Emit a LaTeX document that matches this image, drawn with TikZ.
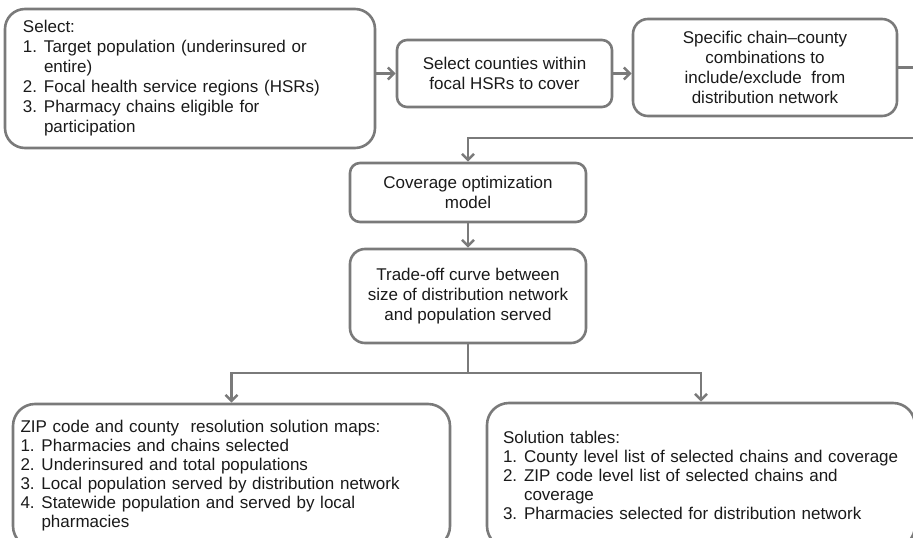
\documentclass[tikz,border=0pt]{standalone}
\usepackage{fontspec}
\setmainfont{Liberation Sans}
\usetikzlibrary{arrows.meta}
\definecolor{lgray}{HTML}{7A7A7A}
\definecolor{tgray}{HTML}{1A1A1A}
\newcommand{\numit}[2]{\makebox[21pt][l]{#1}#2}
\newcommand{\cont}[1]{\hspace*{21pt}#1}
\begin{document}
\begin{tikzpicture}[x=1pt,y=-1pt,
	box/.style={draw=lgray, line width=2.6pt, text=tgray, inner sep=0pt,
		font=\fontsize{17}{20}\selectfont, align=center},
	arr/.style={draw=lgray, line width=2.6pt, -{Straight Barb[length=6pt,width=12pt]}},
	ln/.style={draw=lgray, line width=2.6pt}]
	\useasboundingbox (0,0) rectangle (913,538);
	\clip (0,0) rectangle (913,538);

	% first row
	\node[box, minimum width=370, minimum height=139, rounded corners=20,
		text width=334, align=left] (sel) at (190,78.5)
		{Select:\\
		\numit{1.}{Target population (underinsured or}\\
		\cont{entire)}\\
		\numit{2.}{Focal health service regions (HSRs)}\\
		\numit{3.}{Pharmacy chains eligible for}\\
		\cont{participation}};
	\node[box, minimum width=215, minimum height=67, rounded corners=10] (cty) at (504.5,73.5)
		{Select counties within\\focal HSRs to cover};
	\node[box, minimum width=264, minimum height=97, rounded corners=15] (cmb) at (765,67.5)
		{Specific chain--county\\combinations to\\include/exclude\ \ from\\distribution network};

	% middle column
	\node[box, minimum width=236, minimum height=59, rounded corners=10] (opt) at (468,192.5)
		{Coverage optimization\\model};
	\node[box, minimum width=236, minimum height=94, rounded corners=15] (trd) at (468,296)
		{Trade-off curve between\\size of distribution network\\and population served};

	% result boxes
	\node[box, minimum width=437, minimum height=144, rounded corners=22,
		text width=422, align=left, font=\fontsize{17}{19}\selectfont] (map) at (231.5,476)
		{ZIP code and county\ \ resolution solution maps:\\
		\numit{1.}{Pharmacies and chains selected}\\
		\numit{2.}{Underinsured and total populations}\\
		\numit{3.}{Local population served by distribution network}\\
		\numit{4.}{Statewide population and served by local}\\
		\cont{pharmacies}};
	\node[box, minimum width=428, minimum height=145, rounded corners=22,
		text width=396, align=left, font=\fontsize{17}{19}\selectfont] (tab) at (701,475.5)
		{Solution tables:\\
		\numit{1.}{County level list of selected chains and coverage}\\
		\numit{2.}{ZIP code level list of selected chains and}\\
		\cont{coverage}\\
		\numit{3.}{Pharmacies selected for distribution network}};

	\coordinate (rt) at (925,138);
	\coordinate (br) at (468,373);

	\draw[arr] (sel.east |- cty) -- (cty.west);
	\draw[arr] (cty.east) -- (cty.east -| cmb.west);
	\draw[arr] (cmb.east) -| (rt) -- (rt -| opt.north) -- (opt.north);
	\draw[arr] (opt) -- (trd);
	\draw[ln] (trd.south) -- (br);
	\draw[arr] (br) -| (map.north);
	\draw[arr] (br) -| (tab.north);
\end{tikzpicture}
\end{document}
